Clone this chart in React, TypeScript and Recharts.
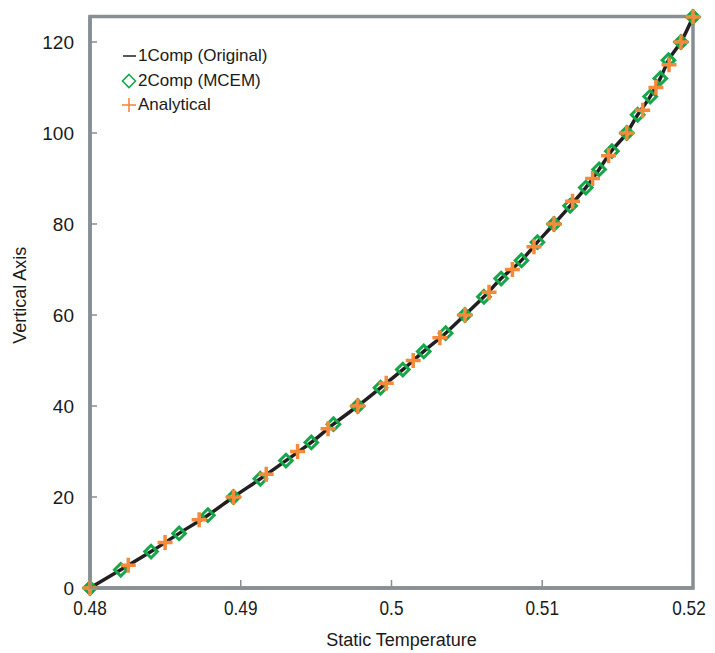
import React from 'react';
import { ScatterChart, Scatter, XAxis, YAxis, ReferenceArea } from 'recharts';

// 1Comp (Original) — solid black line
const lineX = [0.48, 0.48204, 0.48405, 0.48591, 0.48782, 0.48952, 0.4913, 0.493, 0.49468, 0.49615, 0.49776, 0.49927, 0.50075, 0.50214, 0.50359, 0.50487, 0.50613, 0.50727, 0.50862, 0.50968, 0.51078, 0.51185, 0.51289, 0.51377, 0.51458, 0.51561, 0.51633, 0.51716, 0.51783, 0.51837, 0.5192, 0.52];
const lineY = [0, 4, 8, 12, 16, 20, 24, 28, 32, 36, 40, 44, 48, 52, 56, 60, 64, 68, 72, 76, 80, 84, 88, 92, 96, 100, 104, 108, 112, 116, 120, 125.5];

// 2Comp (MCEM) — green diamonds
const mcemX = [0.48, 0.48204, 0.48405, 0.48591, 0.48782, 0.48952, 0.4913, 0.493, 0.49468, 0.49615, 0.49776, 0.49927, 0.50075, 0.50214, 0.50359, 0.50487, 0.50613, 0.50727, 0.50862, 0.50968, 0.51078, 0.51185, 0.51289, 0.51377, 0.51462, 0.51561, 0.51633, 0.51716, 0.51783, 0.51837, 0.5192, 0.52];
const mcemY = [0, 4, 8, 12, 16, 20, 24, 28, 32, 36, 40, 44, 48, 52, 56, 60, 64, 68, 72, 76, 80, 84, 88, 92, 96, 100, 104, 108, 112, 116, 120, 125.5];

// Analytical — orange plus
const anaX = [0.48, 0.48254, 0.48498, 0.48724, 0.48952, 0.49169, 0.49377, 0.49579, 0.49776, 0.49965, 0.50144, 0.50321, 0.50487, 0.50647, 0.50802, 0.50945, 0.51078, 0.51201, 0.51334, 0.5144, 0.51561, 0.51666, 0.51754, 0.51841, 0.5192, 0.52];
const anaY = [0, 5, 10, 15, 20, 25, 30, 35, 40, 45, 50, 55, 60, 65, 70, 75, 80, 85, 90, 95, 100, 105, 110, 115, 120, 125.5];

const xTicks = [0.48, 0.49, 0.5, 0.51, 0.52];
const yTicks = [0, 20, 40, 60, 80, 100, 120];

const lineData = lineX.map((x, i) => ({ x, y: lineY[i] }));
const mcemData = mcemX.map((x, i) => ({ x, y: mcemY[i] }));
const anaData = anaX.map((x, i) => ({ x, y: anaY[i] }));

const GRAY = '#878e94';
const GREEN = '#17a64a';
const ORANGE = '#f48a3a';
const BLACK = '#231f20';
const FONT = "'Liberation Sans', Arial, sans-serif";

const Y_TM = 16;
const X_TM = 12;

const YTick = (props: any) => {
  const { x, y, payload } = props;
  const ax = x + Y_TM;
  return (
    <g>
      <line x1={ax} x2={ax + 7} y1={y} y2={y} stroke={GRAY} strokeWidth={1.5} />
      <text x={x} y={y} dy="0.36em" textAnchor="end" fontSize={19} fill="#1a1a1a" fontFamily={FONT}>
        {payload.value}
      </text>
    </g>
  );
};

const XTick = (props: any) => {
  const { x, y, payload, index, visibleTicksCount } = props;
  const ay = y - X_TM;
  const isLast = index === (visibleTicksCount ?? xTicks.length) - 1;
  const tx = isLast ? x - 4 : x;
  return (
    <g>
      <line x1={x} x2={x} y1={ay} y2={ay - 8} stroke={GRAY} strokeWidth={1.5} />
      <g transform={`translate(${tx},${y}) scale(0.82,1)`}>
        <text x={0} y={0} dy="0.72em" textAnchor="middle" fontSize={21} fill="#1a1a1a" fontFamily={FONT}>
          {payload.value}
        </text>
      </g>
    </g>
  );
};

const YLabel = (props: any) => {
  const vb = props.viewBox || {};
  const cx = 12;
  const cy = (vb.y ?? 0) + (vb.height ?? 0) / 2 - 7;
  return (
    <text
      x={cx}
      y={cy}
      dy="0.35em"
      textAnchor="middle"
      transform={`rotate(-90 ${cx} ${cy})`}
      fontSize={18}
      fill="#1a1a1a"
      fontFamily={FONT}
    >
      Vertical Axis
    </text>
  );
};

const Diamond = (props: any) => {
  const { cx, cy } = props;
  const h = 6.3;
  return (
    <path
      d={`M${cx},${cy - h} L${cx + h},${cy} L${cx},${cy + h} L${cx - h},${cy} Z`}
      fill="none"
      stroke={GREEN}
      strokeWidth={3}
    />
  );
};

const Plus = (props: any) => {
  const { cx, cy } = props;
  const h = 7.5;
  return (
    <g stroke={ORANGE} strokeWidth={3.5}>
      <line x1={cx - h} x2={cx + h} y1={cy} y2={cy} />
      <line x1={cx} x2={cx} y1={cy - h} y2={cy + h} />
    </g>
  );
};

const NoShape = () => <g />;

const legendItems = [
  { name: '1Comp (Original)', kind: 'line' },
  { name: '2Comp (MCEM)', kind: 'diamond' },
  { name: 'Analytical', kind: 'plus' },
];

const LegendIcon = ({ kind }: { kind: string }) => (
  <svg width={16} height={16} style={{ display: 'block' }}>
    {kind === 'line' && <line x1={2} x2={15} y1={8} y2={8} stroke={BLACK} strokeWidth={1.5} />}
    {kind === 'diamond' && <path d="M8,1.5 L14.5,8 L8,14.5 L1.5,8 Z" fill="none" stroke={GREEN} strokeWidth={1.6} />}
    {kind === 'plus' && (
      <g stroke={ORANGE} strokeWidth={1.6}>
        <line x1={1} x2={15} y1={8} y2={8} />
        <line x1={8} x2={8} y1={1} y2={15} />
      </g>
    )}
  </svg>
);

export default function App() {
  return (
    <div style={{ position: 'relative', width: 699, height: 643 }}>
      <style>{`html, body { overflow: hidden; }`}</style>
      <ScatterChart width={699} height={643} margin={{ top: 8.5, right: 14, left: 0, bottom: 0 }}>
        <XAxis
          type="number"
          dataKey="x"
          domain={[0.48, 0.52]}
          ticks={xTicks}
          tick={<XTick />}
          tickLine={false}
          tickSize={0}
          tickMargin={X_TM}
          axisLine={{ stroke: GRAY, strokeWidth: 3.5 }}
          height={63}
          interval={0}
          label={{
            value: 'Static Temperature',
            position: 'insideBottom',
            offset: 5,
            dx: 10,
            style: { fontSize: 18, fill: '#1a1a1a', fontFamily: FONT },
          }}
        />
        <YAxis
          type="number"
          dataKey="y"
          domain={[0, 125.6]}
          ticks={yTicks}
          tick={<YTick />}
          tickLine={false}
          tickSize={0}
          tickMargin={Y_TM}
          axisLine={{ stroke: GRAY, strokeWidth: 3.5 }}
          width={82}
          interval={0}
          label={<YLabel />}
        />
        <ReferenceArea x1={0.48} x2={0.52} y1={0} y2={125.6} fill="none" stroke={GRAY} strokeWidth={3.5} ifOverflow="visible" />
        <Scatter
          name="1Comp (Original)"
          data={lineData}
          line={{ stroke: BLACK, strokeWidth: 3.5 }}
          lineJointType="monotoneX"
          shape={<NoShape />}
          isAnimationActive={false}
        />
        <Scatter name="2Comp (MCEM)" data={mcemData} shape={<Diamond />} isAnimationActive={false} />
        <Scatter name="Analytical" data={anaData} shape={<Plus />} isAnimationActive={false} />
      </ScatterChart>
      <div style={{ position: 'absolute', left: 113, top: 36, fontFamily: FONT, fontSize: 17, color: '#1a1a1a' }}>
        {legendItems.map((it) => (
          <div key={it.name} style={{ display: 'flex', alignItems: 'center', height: 24.5, whiteSpace: 'nowrap' }}>
            <LegendIcon kind={it.kind} />
            <span style={{ marginLeft: 1 }}>{it.name}</span>
          </div>
        ))}
      </div>
    </div>
  );
}
